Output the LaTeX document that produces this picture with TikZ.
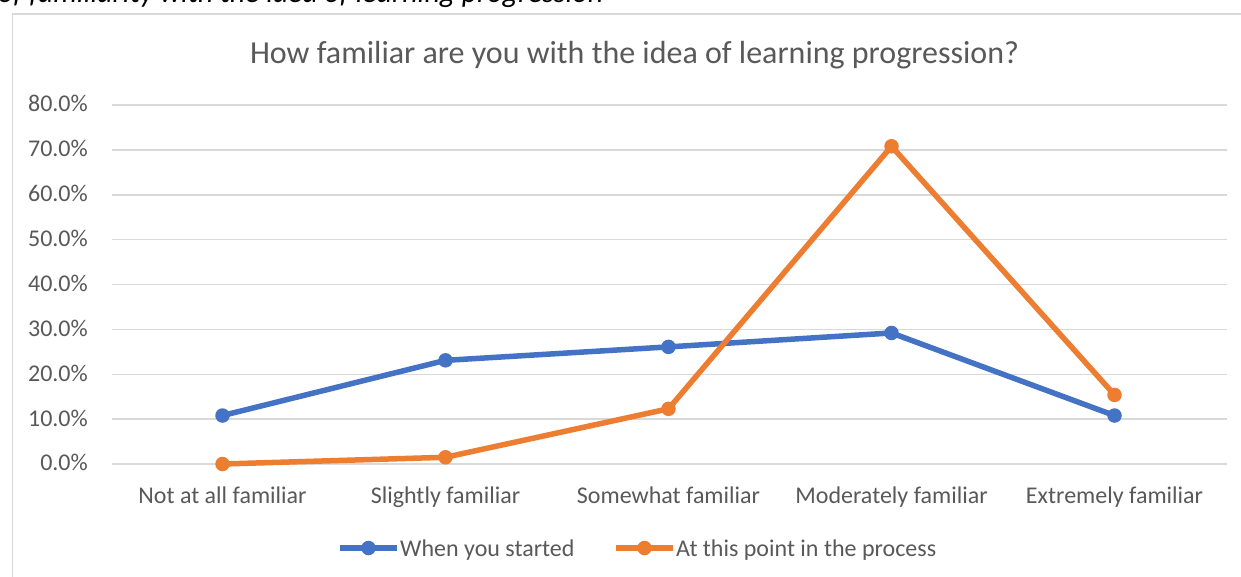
\documentclass[tikz,border=0pt]{standalone}
\usepackage{fontspec}
\setmainfont{Carlito}
\definecolor{txtgray}{HTML}{595959}
\definecolor{gridgray}{HTML}{D9D9D9}
\definecolor{serblue}{HTML}{4472C4}
\definecolor{serorange}{HTML}{ED7D31}
\tikzset{
  gridline/.style={gridgray, line width=1.5pt},
  ticklabel/.style={anchor=base east, text=txtgray, inner sep=0pt, font=\fontsize{24}{28}\selectfont},
  catlabel/.style={anchor=base, text=txtgray, inner sep=0pt, font=\fontsize{24}{28}\selectfont},
  serline/.style={line width=5.5pt, line join=round},
  dotmark/.style={circle, fill=#1, minimum size=14.5pt, inner sep=0pt}
}
\begin{document}
\begin{tikzpicture}[x=1pt, y=-1pt]
    \useasboundingbox (0,0) rectangle (1241,576);
    \fill[white] (0,0) rectangle (1241,576);
    \clip (0,0) rectangle (1241,576);
    % caption line above the chart, cut off by the crop
    \node[anchor=base west, inner sep=0pt, font=\fontsize{29.8}{33}\selectfont\itshape] (capt) at (-2,2.5) {of familiarity with the idea of learning progression};
    \draw[gridgray, line width=1.5pt, fill=white] (12.7,14) rectangle (1260,600);
    \node[anchor=base, text=txtgray, inner sep=0pt, font=\fontsize{32}{36}\selectfont] (title) at (634.5,63.5) {How familiar are you with the idea of learning progression?};
    \begin{scope}[shift={(0,464)}, y=4.4875pt]
    \draw[gridline] (112,0) -- (1227,0);
    \draw[gridline] (112,10) -- (1227,10);
    \draw[gridline] (112,20) -- (1227,20);
    \draw[gridline] (112,30) -- (1227,30);
    \draw[gridline] (112,40) -- (1227,40);
    \draw[gridline] (112,50) -- (1227,50);
    \draw[gridline] (112,60) -- (1227,60);
    \draw[gridline] (112,70) -- (1227,70);
    \draw[gridline] (112,80) -- (1227,80);
    \node[ticklabel] (t0) at ([yshift=-6.9pt]88,0) {0.0\%};
    \node[ticklabel] (t10) at ([yshift=-6.9pt]88,10) {10.0\%};
    \node[ticklabel] (t20) at ([yshift=-6.9pt]88,20) {20.0\%};
    \node[ticklabel] (t30) at ([yshift=-6.9pt]88,30) {30.0\%};
    \node[ticklabel] (t40) at ([yshift=-6.9pt]88,40) {40.0\%};
    \node[ticklabel] (t50) at ([yshift=-6.9pt]88,50) {50.0\%};
    \node[ticklabel] (t60) at ([yshift=-6.9pt]88,60) {60.0\%};
    \node[ticklabel] (t70) at ([yshift=-6.9pt]88,70) {70.0\%};
    \node[ticklabel] (t80) at ([yshift=-6.9pt]88,80) {80.0\%};
    % data points
    \coordinate (b1) at (222.5,10.8);
    \coordinate (b2) at (445.5,23.1);
    \coordinate (b3) at (668.5,26.1);
    \coordinate (b4) at (891.5,29.2);
    \coordinate (b5) at (1114.5,10.8);
    \coordinate (o1) at (222.5,0);
    \coordinate (o2) at (445.5,1.5);
    \coordinate (o3) at (668.5,12.3);
    \coordinate (o4) at (891.5,70.8);
    \coordinate (o5) at (1114.5,15.4);
    \end{scope}
    \node[catlabel] (c1) at (222.5,503) {Not at all familiar};
    \node[catlabel] (c2) at (445.5,503) {Slightly familiar};
    \node[catlabel] (c3) at (668.5,503) {Somewhat familiar};
    \node[catlabel] (c4) at (891.5,503) {Moderately familiar};
    \node[catlabel] (c5) at (1114.5,503) {Extremely familiar};
    \draw[serline, serblue] (b1) -- (b2) -- (b3) -- (b4) -- (b5);
    \node[dotmark=serblue] (bm1) at (b1) {};
    \node[dotmark=serblue] (bm2) at (b2) {};
    \node[dotmark=serblue] (bm3) at (b3) {};
    \node[dotmark=serblue] (bm4) at (b4) {};
    \node[dotmark=serblue] (bm5) at (b5) {};
    \draw[serline, serorange] (o1) -- (o2) -- (o3) -- (o4) -- (o5);
    \node[dotmark=serorange] (om1) at (o1) {};
    \node[dotmark=serorange] (om2) at (o2) {};
    \node[dotmark=serorange] (om3) at (o3) {};
    \node[dotmark=serorange] (om4) at (o4) {};
    \node[dotmark=serorange] (om5) at (o5) {};
    % legend
    \coordinate (lb0) at (340,548);
    \coordinate (lb1) at (397,548);
    \draw[serline, serblue] (lb0) -- (lb1);
    \node[dotmark=serblue] (lbm) at (368.5,548) {};
    \node[catlabel, anchor=base west] (lbt) at (400,556) {When you started};
    \coordinate (lo0) at (616,548);
    \coordinate (lo1) at (673,548);
    \draw[serline, serorange] (lo0) -- (lo1);
    \node[dotmark=serorange] (lom) at (644.5,548) {};
    \node[catlabel, anchor=base west] (lot) at (676,556) {At this point in the process};
\end{tikzpicture}
\end{document}
